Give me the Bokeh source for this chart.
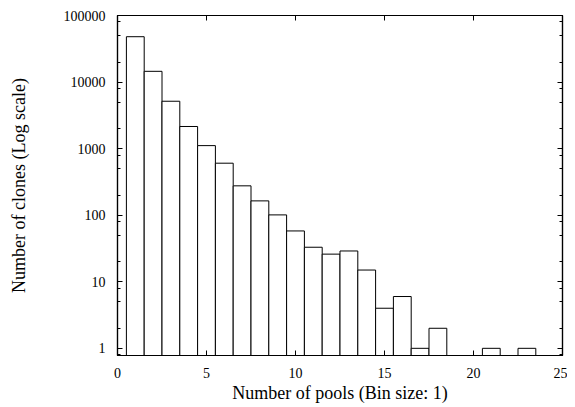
from bokeh.plotting import figure
from bokeh.models import (FixedTicker, LinearAxis, LogAxis, NumeralTickFormatter,
                          CustomJSTickFormatter, ColumnDataSource, Range1d)
from bokeh.embed import file_html
from bokeh.resources import INLINE

# Data: number of pools (bin centre) and number of clones
pools = [1, 2, 3, 4, 5, 6, 7, 8, 9, 10, 11, 12, 13, 14, 15, 16, 17, 18, 21, 23]
clones = [48000, 14500, 5150, 2150, 1110, 604, 276, 164, 101, 58, 33, 26, 29, 15, 4, 6, 1, 2, 1, 1]

x_ticks = [0, 5, 10, 15, 20, 25]
y_ticks = [1, 10, 100, 1000, 10000, 100000]
y_minor = [m * d for d in [0.1, 1, 10, 100, 1000, 10000] for m in (2, 5, 8)]

FONT = "Liberation Serif"

src = ColumnDataSource(dict(x=pools, top=clones, bottom=[0.5] * len(pools)))

p = figure(width=567, height=405, output_backend="svg", toolbar_location=None,
           x_range=Range1d(0, 25), y_range=Range1d(0.78, 100000), y_axis_type="log",
           min_border_left=117, min_border_right=5, min_border_top=15, min_border_bottom=49,
           x_axis_label="Number of pools (Bin size: 1)",
           y_axis_label="Number of clones (Log scale)")
p.background_fill_color = "white"
p.border_fill_color = "white"
p.outline_line_color = "black"
p.outline_line_width = 1.2
p.grid.visible = False

p.vbar(x="x", width=1.0, top="top", bottom="bottom", source=src,
       fill_color="white", line_color="black", line_width=1)

xt = FixedTicker(ticks=x_ticks, minor_ticks=[])
yt = FixedTicker(ticks=y_ticks, minor_ticks=y_minor)

def style(ax, labels=True):
    ax.axis_line_color = "black"
    ax.axis_line_width = 1.2
    ax.major_tick_in = 5
    ax.major_tick_out = 0
    ax.minor_tick_in = 3
    ax.minor_tick_out = 0
    ax.major_tick_line_color = "black"
    ax.minor_tick_line_color = "black"
    if labels:
        ax.major_label_text_font = FONT
        ax.major_label_text_font_size = "14px"
        ax.major_label_text_color = "black"
        ax.axis_label_text_font = FONT
        ax.axis_label_text_font_size = "18px"
        ax.axis_label_text_font_style = "normal"
        ax.axis_label_text_color = "black"
    else:
        ax.formatter = CustomJSTickFormatter(code="return ''")
        ax.major_label_standoff = 0

xa = p.xaxis[0]
xa.ticker = xt
style(xa)
xa.major_label_standoff = 12
xa.axis_label_standoff = 2

ya = p.yaxis[0]
ya.ticker = yt
ya.formatter = NumeralTickFormatter(format="0")
style(ya)
ya.major_label_standoff = 12
ya.axis_label_standoff = 32

top_ax = LinearAxis(ticker=xt)
style(top_ax, labels=False)
p.add_layout(top_ax, "above")

right_ax = LogAxis(ticker=yt)
style(right_ax, labels=False)
p.add_layout(right_ax, "right")

open("out.html", "w").write(file_html(p, INLINE))
